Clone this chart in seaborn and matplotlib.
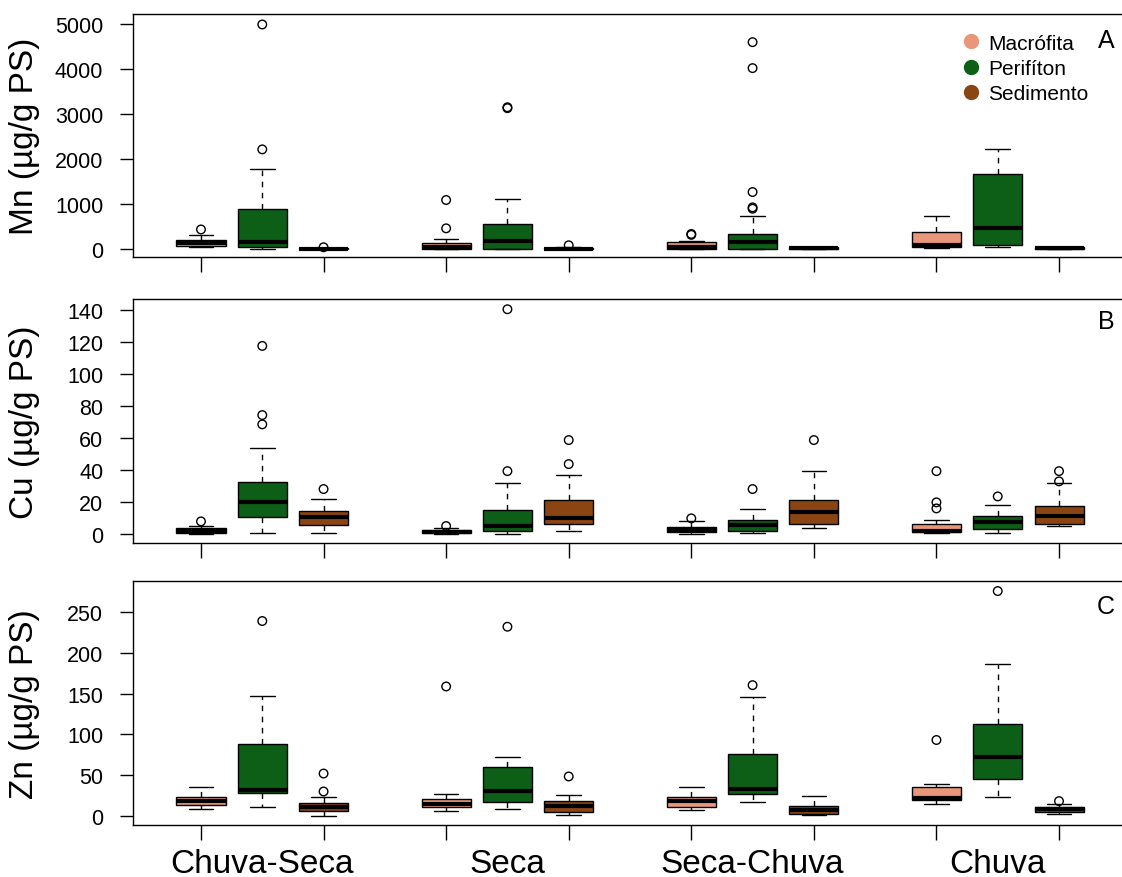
import numpy as np
import pandas as pd
import matplotlib
matplotlib.use("Agg")
import matplotlib.pyplot as plt
from matplotlib.lines import Line2D
from matplotlib.ticker import FixedLocator
import seaborn as sns

periods = ["Chuva-Seca", "Seca", "Seca-Chuva", "Chuva"]
sources = ["Macrófita", "Perifíton", "Sedimento"]
colors = ["#E9967A", "#0D5E17", "#8B4513"]

# Five-number summaries per period: [lower whisker, Q1, median, Q3, upper whisker]
mn_macrofita = [[50, 80, 140, 215, 310], [0, 15, 55, 148, 222],
                [0, 15, 50, 155, 190], [30, 52, 95, 377, 746]]
mn_perifiton = [[10, 55, 160, 901, 1773], [0, 15, 185, 561, 1123],
                [10, 15, 162, 347, 746], [52, 89, 473, 1662, 2216]]
mn_sedimento = [[0, 5, 12, 20, 30], [0, 2, 10, 25, 45],
                [2, 8, 20, 40, 60], [5, 10, 25, 40, 60]]
mn_out_macrofita = [[440], [465, 1093], [320, 340], []]
mn_out_perifiton = [[2216, 4986], [3130, 3150], [900, 930, 1270, 4018, 4594], []]
mn_out_sedimento = [[45], [89], [], []]

cu_macrofita = [[0, 0.5, 2, 3.7, 5.2], [0, 0.5, 1.5, 2.7, 3.5],
                [0, 1, 2.7, 4.6, 7.9], [0.6, 1, 2, 6, 8.7]]
cu_perifiton = [[0.4, 10.8, 20.2, 32.2, 53.5], [0, 1.7, 5, 15, 31.6],
                [0.6, 1.7, 5.8, 8.9, 15.6], [0.6, 3.1, 7.3, 11.2, 18.1]]
cu_sedimento = [[0.6, 5.8, 10.4, 14.1, 21.8], [1.7, 6.4, 9.8, 21, 36.8],
                [3.5, 6.4, 13.9, 21, 39.3], [5, 6.4, 11.2, 17.5, 31.6]]
cu_out_macrofita = [[7.9], [5], [9.8], [16, 19.8, 39.3]]
cu_out_perifiton = [[68.5, 74.3, 117.5], [39.3, 140.4], [28.1], [23.5]]
cu_out_sedimento = [[28.1], [43.7, 58.7], [58.7], [32.9, 39.3]]

zn_macrofita = [[8.1, 13, 17.9, 22.8, 36.2], [6.5, 11.4, 15.1, 21.2, 27.3],
                [7.3, 11.4, 18.3, 22.8, 36.2], [14.3, 19.1, 21.6, 35.4, 39.5]]
zn_perifiton = [[10.6, 28.5, 32, 88.4, 146.6], [9, 17.1, 30.1, 60.7, 72],
                [17.1, 27.3, 33.4, 76.1, 145.4], [22.8, 44.8, 72.9, 112.4, 186]]
zn_sedimento = [[0, 6.1, 11.4, 15.9, 22.8], [1.6, 4.5, 11.8, 17.9, 26],
                [1.6, 2.9, 7.3, 12.2, 24], [2, 4.9, 8.1, 11, 14.3]]
zn_out_macrofita = [[], [158.8], [], [93.2]]
zn_out_perifiton = [[239], [232], [160.4], [275.7]]
zn_out_sedimento = [[30.1, 52.1], [48.5], [], [18.3]]

panels = [
    dict(label="Mn (µg/g PS)", letter="A",
         boxes=[mn_macrofita, mn_perifiton, mn_sedimento],
         outliers=[mn_out_macrofita, mn_out_perifiton, mn_out_sedimento],
         ylim=(-170, 5220), yticks=[0, 1000, 2000, 3000, 4000, 5000]),
    dict(label="Cu (µg/g PS)", letter="B",
         boxes=[cu_macrofita, cu_perifiton, cu_sedimento],
         outliers=[cu_out_macrofita, cu_out_perifiton, cu_out_sedimento],
         ylim=(-5.6, 146.8), yticks=[0, 20, 40, 60, 80, 100, 120, 140]),
    dict(label="Zn (µg/g PS)", letter="C",
         boxes=[zn_macrofita, zn_perifiton, zn_sedimento],
         outliers=[zn_out_macrofita, zn_out_perifiton, zn_out_sedimento],
         ylim=(-11, 288), yticks=[0, 50, 100, 150, 200, 250]),
]

sns.set_theme(style="ticks")
plt.rcParams["font.family"] = ["Liberation Sans", "DejaVu Sans"]
plt.rcParams.update({
    "text.color": "black", "axes.labelcolor": "black",
    "xtick.color": "black", "ytick.color": "black",
    "axes.edgecolor": "black", "axes.linewidth": 1.0,
})

fig = plt.figure(figsize=(11.22, 8.78), dpi=100)
bottoms = [0.7062, 0.3804, 0.0592]
heights = [0.2768, 0.2779, 0.2779]
hue_step = 0.25

for k, p in enumerate(panels):
    ax = fig.add_axes([0.1185, bottoms[k], 0.886, heights[k]])

    rows = []
    for si, src in enumerate(sources):
        for pi, per in enumerate(periods):
            for v in p["boxes"][si][pi]:
                rows.append((per, src, v))
    df = pd.DataFrame(rows, columns=["periodo", "fonte", "valor"])

    sns.boxplot(data=df, x="periodo", y="valor", hue="fonte",
                order=periods, hue_order=sources, palette=colors,
                saturation=1, width=0.75, gap=0.2, whis=(0, 100),
                linecolor="black", linewidth=1, fliersize=0,
                medianprops=dict(linewidth=3),
                whiskerprops=dict(linestyle=(0, (4, 4))),
                legend=False, ax=ax)

    ox, oy = [], []
    for si in range(len(sources)):
        for pi in range(len(periods)):
            for v in p["outliers"][si][pi]:
                ox.append(pi + (si - 1) * hue_step)
                oy.append(v)
    sns.scatterplot(x=ox, y=oy, ax=ax, marker="o", s=38,
                    facecolors="none", edgecolors="black", linewidths=1,
                    legend=False, zorder=4)

    ax.set_xlim(-0.5275, 3.5275)
    ax.set_ylim(*p["ylim"])
    ax.set_yticks(p["yticks"])
    ax.tick_params(axis="y", length=9.4, width=1, pad=12, labelsize=15.5)

    ax.xaxis.set_major_locator(FixedLocator(range(len(periods))))
    ax.set_xticklabels(periods if k == 2 else [""] * len(periods))
    ax.tick_params(axis="x", which="major", length=0, pad=16.5, labelsize=24)
    ax.xaxis.set_minor_locator(FixedLocator(
        [pi + (si - 1) * hue_step for pi in range(len(periods))
         for si in range(len(sources))]))
    ax.tick_params(axis="x", which="minor", length=10.8, width=1,
                   direction="out")

    ax.set_xlabel("")
    ax.set_ylabel(p["label"], fontsize=24)
    ax.yaxis.set_label_coords(-0.094, 0.5)
    for s in ax.spines.values():
        s.set_visible(True)
        s.set_color("black")
        s.set_linewidth(1)

    ax.text(0.979, [0.893, 0.910, 0.898][k], p["letter"],
            transform=ax.transAxes, ha="center", va="center", fontsize=18)

    if k == 0:
        handles = [Line2D([], [], marker="o", linestyle="", markersize=10,
                          markerfacecolor=c, markeredgecolor=c) for c in colors]
        leg = ax.legend(handles, sources, loc="upper left",
                        bbox_to_anchor=(0.8285, 0.944), fontsize=15,
                        frameon=True, handlelength=0.8, handletextpad=0.42,
                        labelspacing=0.29, borderpad=0.3, borderaxespad=0)
        leg.get_frame().set_edgecolor("none")
        leg.get_frame().set_facecolor("white")
        leg.get_frame().set_alpha(1)

fig.savefig("out.png", dpi=100)
